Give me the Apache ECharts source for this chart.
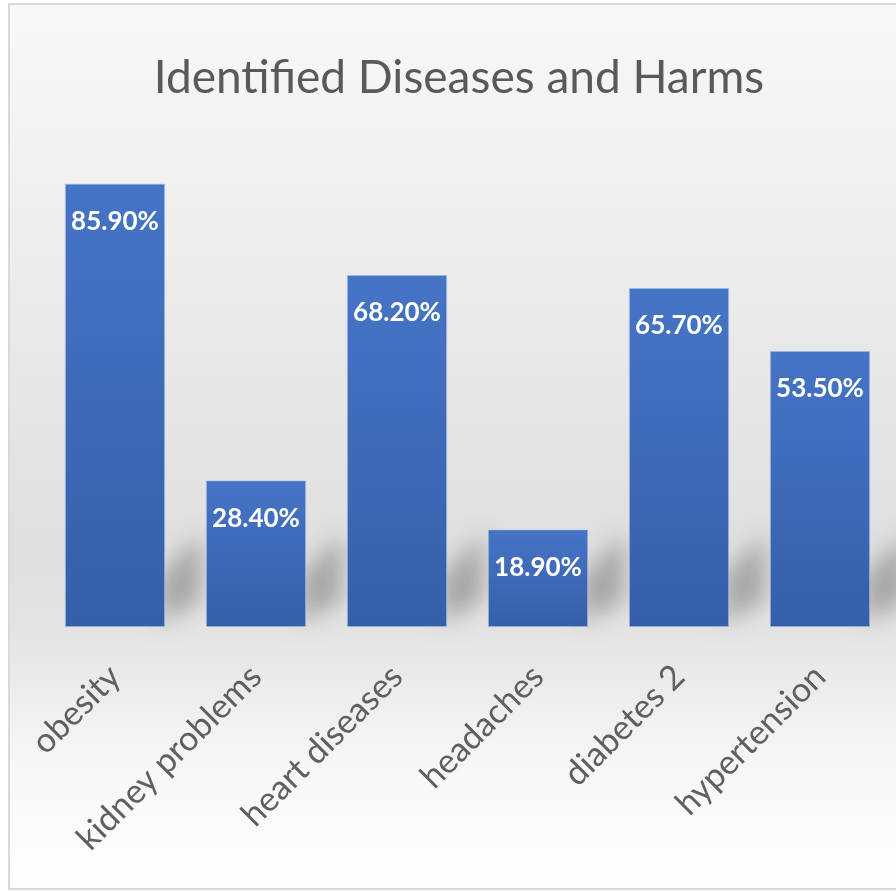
<!DOCTYPE html>
<html>
<head>
<meta charset="utf-8">
<style>
  html, body { margin: 0; padding: 0; background: #fff; }
  #chart { width: 896px; height: 892px; }
</style>
<script src="https://cdn.jsdelivr.net/npm/echarts@6/dist/echarts.min.js"></script>
</head>
<body>
<div id="chart"></div>
<script>
// categories and values
const categories = ['obesity', 'kidney problems', 'heart diseases', 'headaches', 'diabetes 2', 'hypertension'];
const shares = [85.9, 28.4, 68.2, 18.9, 65.7, 53.5];

const chart = echarts.init(document.getElementById('chart'), null, { renderer: 'canvas' });

const TEXT_GREY = '#595959';
const FONT = 'Lato, "Open Sans", sans-serif';

// soft cast shadow to the right of each bar (rising up-right), drawn via offset canvas shadow
function renderShadow(params, api) {
  const base = api.coord([api.value(0), 0]);
  const top = api.coord([api.value(0), api.value(1)]);
  const w = api.size([1, 0])[0] * 0.71;
  const right = base[0] + w / 2;
  const b = base[1];
  const h = Math.min(b - top[1], 92);
  const OFF = 3000;
  return {
    type: 'polygon',
    silent: true,
    shape: {
      points: [
        [right - 6 + OFF, b - 4],
        [right + 36 + OFF, b - 26],
        [right + 36 + OFF, b - h],
        [right - 6 + OFF, b - h * 0.55]
      ]
    },
    style: {
      fill: '#000',
      shadowColor: 'rgba(0,0,0,0.26)',
      shadowBlur: 22,
      shadowOffsetX: -OFF
    }
  };
}

chart.setOption({
  animation: false,
  backgroundColor: '#ffffff',
  graphic: [
    {
      type: 'rect',
      z: -10,
      silent: true,
      shape: { x: 9, y: 4, width: 900, height: 885 },
      style: {
        fill: new echarts.graphic.LinearGradient(0, 0, 0, 1, [
          { offset: 0, color: '#f8f8f8' },
          { offset: 0.3, color: '#ececec' },
          { offset: 0.62, color: '#dfdfdf' },
          { offset: 0.71, color: '#e4e4e4' },
          { offset: 0.85, color: '#f6f6f6' },
          { offset: 1, color: '#ffffff' }
        ]),
        stroke: '#d9d9d9',
        lineWidth: 2
      }
    }
  ],
  title: {
    text: 'Identified Diseases and Harms',
    left: 454,
    top: 50,
    textAlign: 'center',
    textStyle: { color: TEXT_GREY, fontSize: 46, fontWeight: 'normal', fontFamily: FONT }
  },
  grid: { left: 44.5, right: 5.5, top: 111, bottom: 265, containLabel: false },
  xAxis: {
    type: 'category',
    data: categories,
    axisLine: { show: false },
    axisTick: { show: false },
    axisLabel: {
      rotate: 45,
      margin: 44,
      interval: 0,
      color: '#5f5f5f',
      fontSize: 34,
      fontFamily: FONT
    }
  },
  yAxis: {
    type: 'value',
    min: 0,
    max: 100,
    show: false,
    splitLine: { show: false }
  },
  series: [
    {
      type: 'custom',
      renderItem: renderShadow,
      data: shares.map((v, i) => [i, v]),
      z: 1,
      silent: true
    },
    {
      type: 'bar',
      data: shares,
      barWidth: '71%',
      z: 2,
      itemStyle: {
        color: new echarts.graphic.LinearGradient(0, 0, 0, 1, [
          { offset: 0, color: '#4674c6' },
          { offset: 1, color: '#355fa9' }
        ]),
        borderColor: 'rgba(160,185,230,0.6)',
        borderWidth: 1
      },
      label: {
        show: true,
        position: 'insideTop',
        distance: 25,
        color: '#ffffff',
        fontSize: 26,
        fontWeight: 'bold',
        fontFamily: FONT,
        formatter: p => p.value.toFixed(2) + '%'
      }
    }
  ]
});
</script>
</body>
</html>
